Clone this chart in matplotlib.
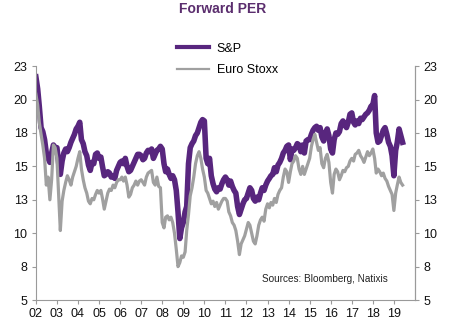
import numpy as np
import pandas as pd
import matplotlib
matplotlib.use("Agg")
import matplotlib.pyplot as plt
import matplotlib.dates as mdates

plt.rcParams['font.family'] = ['Liberation Sans', 'DejaVu Sans']

# monthly forward P/E, Jan 2002 .. Jun 2019
sp_pe = [
    21.7, 20.8, 19.5, 17.9, 17.6, 17.0, 16.0, 15.6, 15.3, 16.0, 16.6, 16.4,  # 02
    16.4, 15.2, 14.4, 15.4, 16.0, 16.3, 16.1, 16.4, 16.8, 17.1, 17.4, 17.8,  # 03
    18.0, 18.3, 17.0, 16.7, 16.1, 15.8, 15.1, 14.7, 15.3, 15.2, 15.9, 16.0,  # 04
    15.6, 15.7, 15.0, 14.3, 14.4, 14.6, 14.5, 14.2, 14.3, 14.1, 14.7, 15.0,  # 05
    15.3, 15.4, 15.2, 15.6, 15.0, 14.6, 14.7, 15.0, 15.3, 15.6, 15.9, 15.9,  # 06
    15.8, 15.5, 15.6, 16.0, 16.2, 16.1, 16.3, 15.6, 15.9, 16.2, 16.3, 16.5,  # 07
    16.3, 15.2, 14.6, 14.8, 14.4, 14.1, 14.3, 14.0, 13.2, 11.6, 9.6, 10.4,   # 08
    10.8, 11.6, 12.0, 15.2, 16.4, 16.7, 16.9, 17.3, 17.5, 17.9, 18.3, 18.5,  # 09
    18.4, 15.6, 15.2, 15.6, 14.3, 13.7, 13.3, 13.1, 13.4, 13.3, 13.7, 14.0,  # 10
    14.2, 14.0, 13.6, 13.9, 13.5, 13.2, 13.0, 12.0, 11.4, 11.8, 12.2, 12.5,  # 11
    12.6, 13.0, 13.4, 13.2, 12.6, 12.4, 12.7, 12.5, 13.0, 13.4, 13.2, 13.6,  # 12
    13.9, 14.1, 14.3, 14.4, 14.9, 14.6, 15.1, 15.3, 15.6, 16.0, 16.2, 16.5,  # 13
    16.6, 15.5, 16.3, 16.2, 16.4, 16.7, 16.6, 16.1, 16.6, 16.0, 16.9, 17.0,  # 14
    17.0, 17.4, 17.7, 17.9, 18.0, 17.7, 17.9, 17.2, 16.9, 17.5, 17.8, 17.3,  # 15
    16.3, 16.0, 17.0, 17.5, 17.4, 17.6, 18.2, 18.4, 18.1, 17.9, 18.3, 18.9,  # 16
    19.0, 18.3, 18.1, 18.4, 18.2, 18.6, 18.5, 18.7, 18.9, 19.0, 19.2, 19.5,  # 17
    19.6, 20.3, 17.5, 16.8, 16.9, 17.3, 17.7, 17.9, 17.4, 16.8, 16.5, 15.8,  # 18
    14.3, 16.2, 16.8, 17.8, 17.3, 16.8,                                      # 19
]
stoxx_pe = [
    20.4, 19.6, 18.3, 17.4, 16.6, 15.6, 13.6, 14.2, 12.5, 14.0, 16.6, 16.4,  # 02
    15.6, 12.8, 10.2, 12.4, 13.2, 13.8, 14.3, 14.0, 13.6, 14.2, 14.6, 15.0,  # 03
    15.6, 16.1, 14.8, 14.0, 13.4, 13.0, 12.4, 12.2, 12.6, 12.5, 12.9, 13.2,  # 04
    13.0, 13.2, 12.6, 11.8, 12.4, 13.0, 13.3, 13.2, 13.6, 13.4, 13.8, 14.0,  # 05
    14.0, 14.2, 13.9, 14.2, 13.6, 12.7, 12.9, 13.4, 13.6, 13.9, 13.6, 13.9,  # 06
    14.0, 13.8, 13.6, 14.2, 14.5, 14.6, 14.7, 13.8, 13.6, 14.2, 13.5, 13.4,  # 07
    10.8, 10.4, 11.2, 11.3, 11.0, 11.2, 10.8, 10.0, 8.8, 7.5, 7.8, 8.3,      # 08
    8.2, 8.6, 10.2, 11.4, 12.8, 13.4, 14.2, 15.2, 15.8, 16.1, 15.6, 14.8,    # 09
    14.2, 13.2, 13.0, 12.6, 12.2, 12.4, 12.0, 12.3, 11.8, 12.1, 12.4, 12.6,  # 10
    12.6, 12.4, 11.6, 11.3, 10.8, 10.6, 10.2, 9.4, 8.4, 9.2, 9.5, 9.8,       # 11
    10.3, 10.8, 10.6, 10.0, 9.4, 9.2, 9.8, 10.6, 11.0, 11.2, 10.9, 11.8,     # 12
    12.2, 11.9, 12.3, 12.1, 12.6, 12.3, 12.9, 13.2, 13.4, 14.2, 14.8, 14.6,  # 13
    13.8, 14.6, 15.2, 15.4, 15.8, 15.6, 14.8, 14.4, 15.0, 14.4, 14.8, 15.2,  # 14
    15.6, 16.5, 17.0, 17.4, 16.8, 16.2, 16.4, 15.2, 14.9, 15.6, 15.9, 15.3,  # 15
    13.8, 13.0, 14.4, 14.8, 14.6, 14.0, 14.3, 14.7, 14.6, 14.9, 15.0, 15.4,  # 16
    15.6, 15.4, 15.9, 16.0, 16.2, 15.8, 15.6, 15.3, 15.7, 16.1, 15.8, 16.0,  # 17
    16.3, 15.6, 14.5, 14.8, 14.6, 14.3, 14.5, 14.1, 13.9, 13.5, 13.2, 12.9,  # 18
    11.7, 13.0, 13.6, 14.2, 13.8, 13.6,                                      # 19
]

y_ticks = [5, 7.5, 10, 12.5, 15, 17.5, 20, 22.5]
y_labels = ['5', '8', '10', '13', '15', '18', '20', '23']

purple = '#58267e'
grey = '#a0a0a0'
axis_grey = '#9a9a9a'

dates = pd.date_range('2002-01-01', periods=len(sp_pe), freq='MS')
years = pd.date_range('2002-01-01', '2019-01-01', freq='YS')

fig = plt.figure(figsize=(4.6, 3.29), dpi=100)
ax = fig.add_axes([0.078, 0.088, 0.824, 0.711])

ax.plot(dates, sp_pe, color=purple, lw=4.0, label='S&P', solid_joinstyle='round')
ax.plot(dates, stoxx_pe, color=grey, lw=2.3, label='Euro Stoxx')

ax.set_xlim(pd.Timestamp('2002-01-01'), pd.Timestamp('2020-01-01'))
ax.set_ylim(5, 22.5)
ax.set_xticks(years)
ax.xaxis.set_major_formatter(mdates.DateFormatter('%y'))
ax.set_yticks(y_ticks)
ax.set_yticklabels(y_labels)

ax2 = ax.twinx()
ax2.set_ylim(ax.get_ylim())
ax2.set_yticks(y_ticks)
ax2.set_yticklabels(y_labels)

for a in (ax, ax2):
    a.spines['top'].set_visible(False)
    for s in ('left', 'right', 'bottom'):
        a.spines[s].set_color(axis_grey)
        a.spines[s].set_linewidth(0.8)
    a.tick_params(colors=axis_grey, labelcolor='#111111', labelsize=9,
                  length=3, width=0.8, pad=3)
ax2.spines['left'].set_visible(False)
ax2.spines['bottom'].set_visible(False)

leg = fig.legend(loc='upper left', bbox_to_anchor=(0.36, 0.905), frameon=False,
                 fontsize=9, handlelength=2.6, handletextpad=0.6, labelspacing=0.75)
leg.get_lines()[0].set_linewidth(3.0)
leg.get_lines()[1].set_linewidth(1.6)

fig.text(0.485, 0.973, 'Forward PER', ha='center', va='center',
         fontsize=10, fontweight='bold', color='#5b2e6e')
ax.text(0.596, 0.09, 'Sources: Bloomberg, Natixis', transform=ax.transAxes,
        ha='left', va='center', fontsize=7.2, color='#222222')

fig.savefig('out.png', dpi=100)
